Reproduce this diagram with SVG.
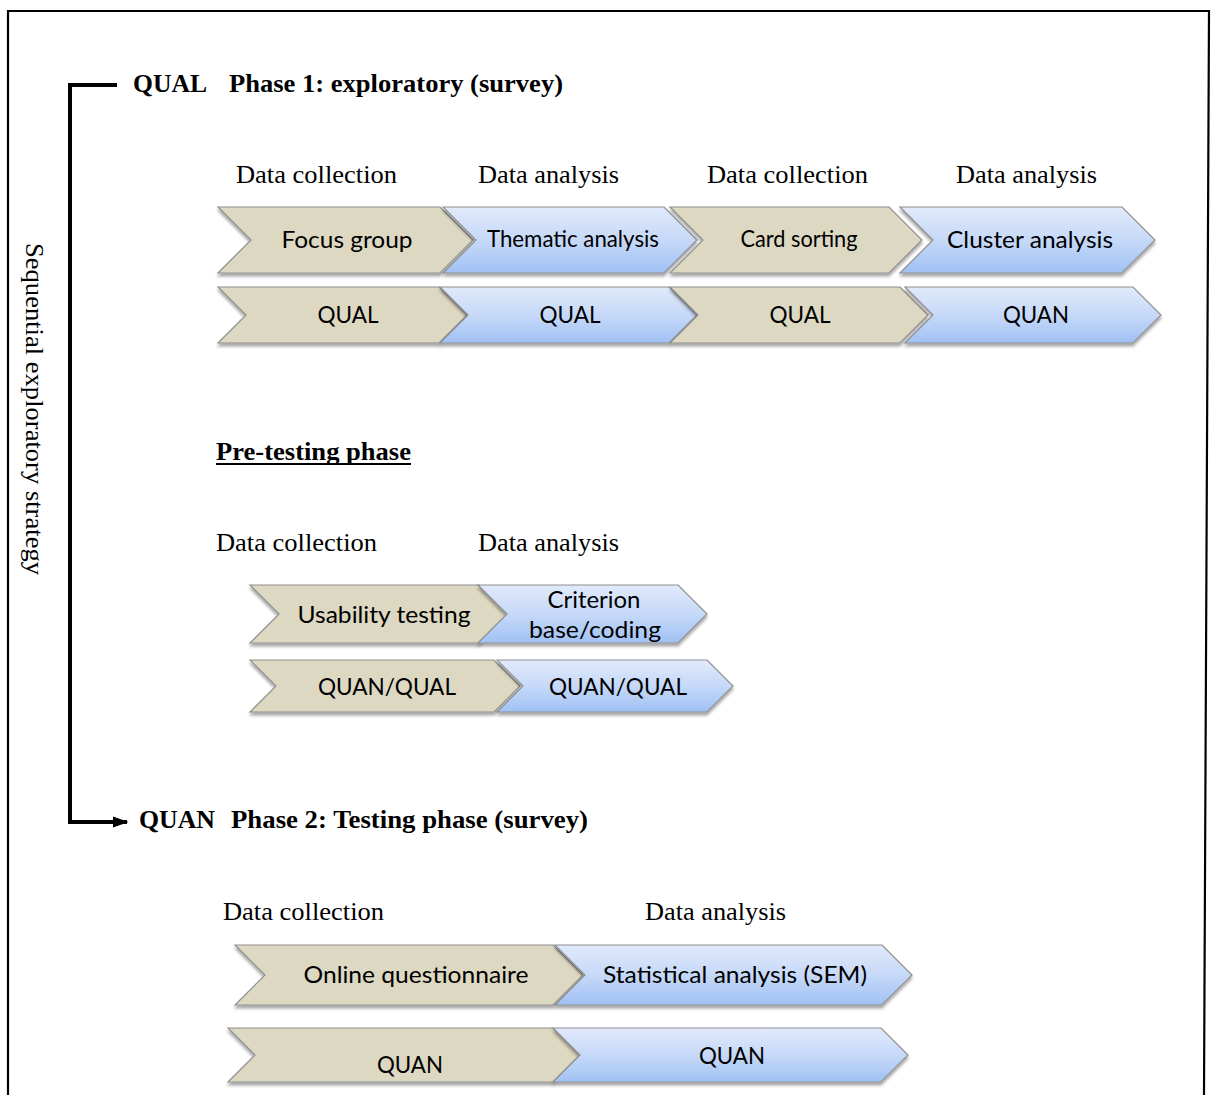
<svg xmlns="http://www.w3.org/2000/svg" width="1211" height="1095" viewBox="0 0 1211 1095">
  <style>
    .lbl { font-family: "Liberation Serif", "Times New Roman", serif; font-size: 25px; fill: #000; }
    .head { font-family: "Liberation Serif", "Times New Roman", serif; font-size: 25px; font-weight: bold; fill: #000; }
    .cv { font-family: Lato, "Open Sans", sans-serif; font-size: 23px; fill: #000; text-anchor: middle; }
    .tan { fill: #ddd8c2; stroke: #8f8f8f; stroke-width: 1.2; filter: url(#shadow); }
    .blue { fill: url(#blueGrad); stroke: #8f8f8f; stroke-width: 1.2; filter: url(#shadow); }
    .bracket { fill: none; stroke: #000; stroke-width: 4; }
  </style>
  <defs>
    <linearGradient id="blueGrad" x1="0" y1="0" x2="0" y2="1">
      <stop offset="0" stop-color="#e1eafb"/>
      <stop offset="0.5" stop-color="#c6d9f8"/>
      <stop offset="1" stop-color="#a0c1f4"/>
    </linearGradient>
    <filter id="shadow" x="-5%" y="-10%" width="110%" height="130%">
      <feDropShadow dx="0" dy="3" stdDeviation="1.8" flood-color="#000" flood-opacity="0.35"/>
    </filter>
    <marker id="arrow" viewBox="0 0 10 7" refX="9" refY="3.5" markerWidth="4" markerHeight="2.8" orient="auto" markerUnits="strokeWidth">
      <path d="M0,0 L10,3.5 L0,7 Z" fill="#000"/>
    </marker>
  </defs>

  <rect width="1211" height="1095" fill="#fff"/>

  <!-- outer frame (open at the bottom) -->
  <path d="M8,1095 V11 H1209 L1204,1095" fill="none" stroke="#000" stroke-width="2.2"/>

  <!-- connectors: the sequence bracket running from phase 1 to phase 2 -->
  <g id="connectors">
    <path class="bracket" d="M117,85 H70 V822 H127" marker-end="url(#arrow)"/>
  </g>

  <!-- side caption -->
  <text class="lbl" transform="translate(26,243) rotate(90)" font-size="24" textLength="332" lengthAdjust="spacingAndGlyphs">Sequential exploratory strategy</text>

  <!-- phase headings -->
  <g id="phase1-heading">
    <text class="head" x="133" y="92" textLength="74" lengthAdjust="spacingAndGlyphs">QUAL</text>
    <text class="head" x="229" y="92" textLength="334" lengthAdjust="spacingAndGlyphs">Phase 1: exploratory (survey)</text>
  </g>
  <g id="phase2-heading">
    <text class="head" x="139" y="828" textLength="76" lengthAdjust="spacingAndGlyphs">QUAN</text>
    <text class="head" x="231" y="828" textLength="357" lengthAdjust="spacingAndGlyphs">Phase 2: Testing phase (survey)</text>
  </g>
  <g id="pretest-heading">
    <text class="head" x="216" y="460" textLength="195" lengthAdjust="spacingAndGlyphs">Pre-testing phase</text>
    <rect x="216" y="463" width="195" height="2" fill="#000"/>
  </g>

  <!-- step labels -->
  <g id="labels-phase1">
    <text class="lbl" x="236" y="183" textLength="161" lengthAdjust="spacingAndGlyphs">Data collection</text>
    <text class="lbl" x="478" y="183" textLength="141" lengthAdjust="spacingAndGlyphs">Data analysis</text>
    <text class="lbl" x="707" y="183" textLength="161" lengthAdjust="spacingAndGlyphs">Data collection</text>
    <text class="lbl" x="956" y="183" textLength="141" lengthAdjust="spacingAndGlyphs">Data analysis</text>
  </g>
  <g id="labels-pretest">
    <text class="lbl" x="216" y="551" textLength="161" lengthAdjust="spacingAndGlyphs">Data collection</text>
    <text class="lbl" x="478" y="551" textLength="141" lengthAdjust="spacingAndGlyphs">Data analysis</text>
  </g>
  <g id="labels-phase2">
    <text class="lbl" x="223" y="920" textLength="161" lengthAdjust="spacingAndGlyphs">Data collection</text>
    <text class="lbl" x="645" y="920" textLength="141" lengthAdjust="spacingAndGlyphs">Data analysis</text>
  </g>

  <!-- phase 1, methods row -->
  <g id="focus-group">
    <path class="tan" d="M218,207 H440 L473,240 L440,273 H218 L251,240 Z"/>
    <text class="cv" x="347" y="248" textLength="131" lengthAdjust="spacingAndGlyphs">Focus group</text>
  </g>
  <g id="thematic-analysis">
    <path class="blue" d="M443,207 H664 L697,240 L664,273 H443 L476,240 Z"/>
    <text class="cv" x="573" y="247" font-size="21" textLength="172" lengthAdjust="spacingAndGlyphs">Thematic analysis</text>
  </g>
  <g id="card-sorting">
    <path class="tan" d="M670,207 H889 L922,240 L889,273 H670 L703,240 Z"/>
    <text class="cv" x="799" y="247" font-size="21" textLength="117" lengthAdjust="spacingAndGlyphs">Card sorting</text>
  </g>
  <g id="cluster-analysis">
    <path class="blue" d="M900,207 H1122 L1155,240 L1122,273 H900 L933,240 Z"/>
    <text class="cv" x="1030" y="248" textLength="166" lengthAdjust="spacingAndGlyphs">Cluster analysis</text>
  </g>

  <!-- phase 1, paradigm row -->
  <g id="p1-qual-1">
    <path class="tan" d="M218,287 H439 L467,315 L439,343 H218 L246,315 Z"/>
    <text class="cv" x="348" y="323" textLength="61" lengthAdjust="spacingAndGlyphs">QUAL</text>
  </g>
  <g id="p1-qual-2">
    <path class="blue" d="M440,287 H669 L697,315 L669,343 H440 L468,315 Z"/>
    <text class="cv" x="570" y="323" textLength="61" lengthAdjust="spacingAndGlyphs">QUAL</text>
  </g>
  <g id="p1-qual-3">
    <path class="tan" d="M670,287 H900 L928,315 L900,343 H670 L698,315 Z"/>
    <text class="cv" x="800" y="323" textLength="61" lengthAdjust="spacingAndGlyphs">QUAL</text>
  </g>
  <g id="p1-quan">
    <path class="blue" d="M905,287 H1133 L1161,315 L1133,343 H905 L933,315 Z"/>
    <text class="cv" x="1036" y="323" textLength="66" lengthAdjust="spacingAndGlyphs">QUAN</text>
  </g>

  <!-- pre-testing, methods row -->
  <g id="usability-testing">
    <path class="tan" d="M250,585 H479 L508,614 L479,643 H250 L279,614 Z"/>
    <text class="cv" x="384" y="623" textLength="173" lengthAdjust="spacingAndGlyphs">Usability testing</text>
  </g>
  <g id="criterion-coding">
    <path class="blue" d="M478,585 H678 L707,614 L678,643 H478 L507,614 Z"/>
    <text class="cv" x="594" y="608" textLength="93" lengthAdjust="spacingAndGlyphs">Criterion</text>
    <text class="cv" x="595" y="638" textLength="132" lengthAdjust="spacingAndGlyphs">base/coding</text>
  </g>

  <!-- pre-testing, paradigm row -->
  <g id="pre-quanqual-1">
    <path class="tan" d="M250,660 H494 L520,686 L494,712 H250 L276,686 Z"/>
    <text class="cv" x="387" y="695" textLength="138" lengthAdjust="spacingAndGlyphs">QUAN/QUAL</text>
  </g>
  <g id="pre-quanqual-2">
    <path class="blue" d="M497,660 H707 L733,686 L707,712 H497 L523,686 Z"/>
    <text class="cv" x="618" y="695" textLength="138" lengthAdjust="spacingAndGlyphs">QUAN/QUAL</text>
  </g>

  <!-- phase 2, methods row -->
  <g id="online-questionnaire">
    <path class="tan" d="M235,945 H553 L583,975 L553,1005 H235 L265,975 Z"/>
    <text class="cv" x="416" y="983" textLength="225" lengthAdjust="spacingAndGlyphs">Online questionnaire</text>
  </g>
  <g id="statistical-analysis">
    <path class="blue" d="M555,945 H882 L912,975 L882,1005 H555 L585,975 Z"/>
    <text class="cv" x="735" y="983" textLength="264" lengthAdjust="spacingAndGlyphs">Statistical analysis (SEM)</text>
  </g>

  <!-- phase 2, paradigm row -->
  <g id="p2-quan-1">
    <path class="tan" d="M228,1028 H553 L580,1055 L553,1082 H228 L255,1055 Z"/>
    <text class="cv" x="410" y="1073" textLength="66" lengthAdjust="spacingAndGlyphs">QUAN</text>
  </g>
  <g id="p2-quan-2">
    <path class="blue" d="M553,1028 H881 L908,1055 L881,1082 H553 L580,1055 Z"/>
    <text class="cv" x="732" y="1064" textLength="66" lengthAdjust="spacingAndGlyphs">QUAN</text>
  </g>
</svg>
